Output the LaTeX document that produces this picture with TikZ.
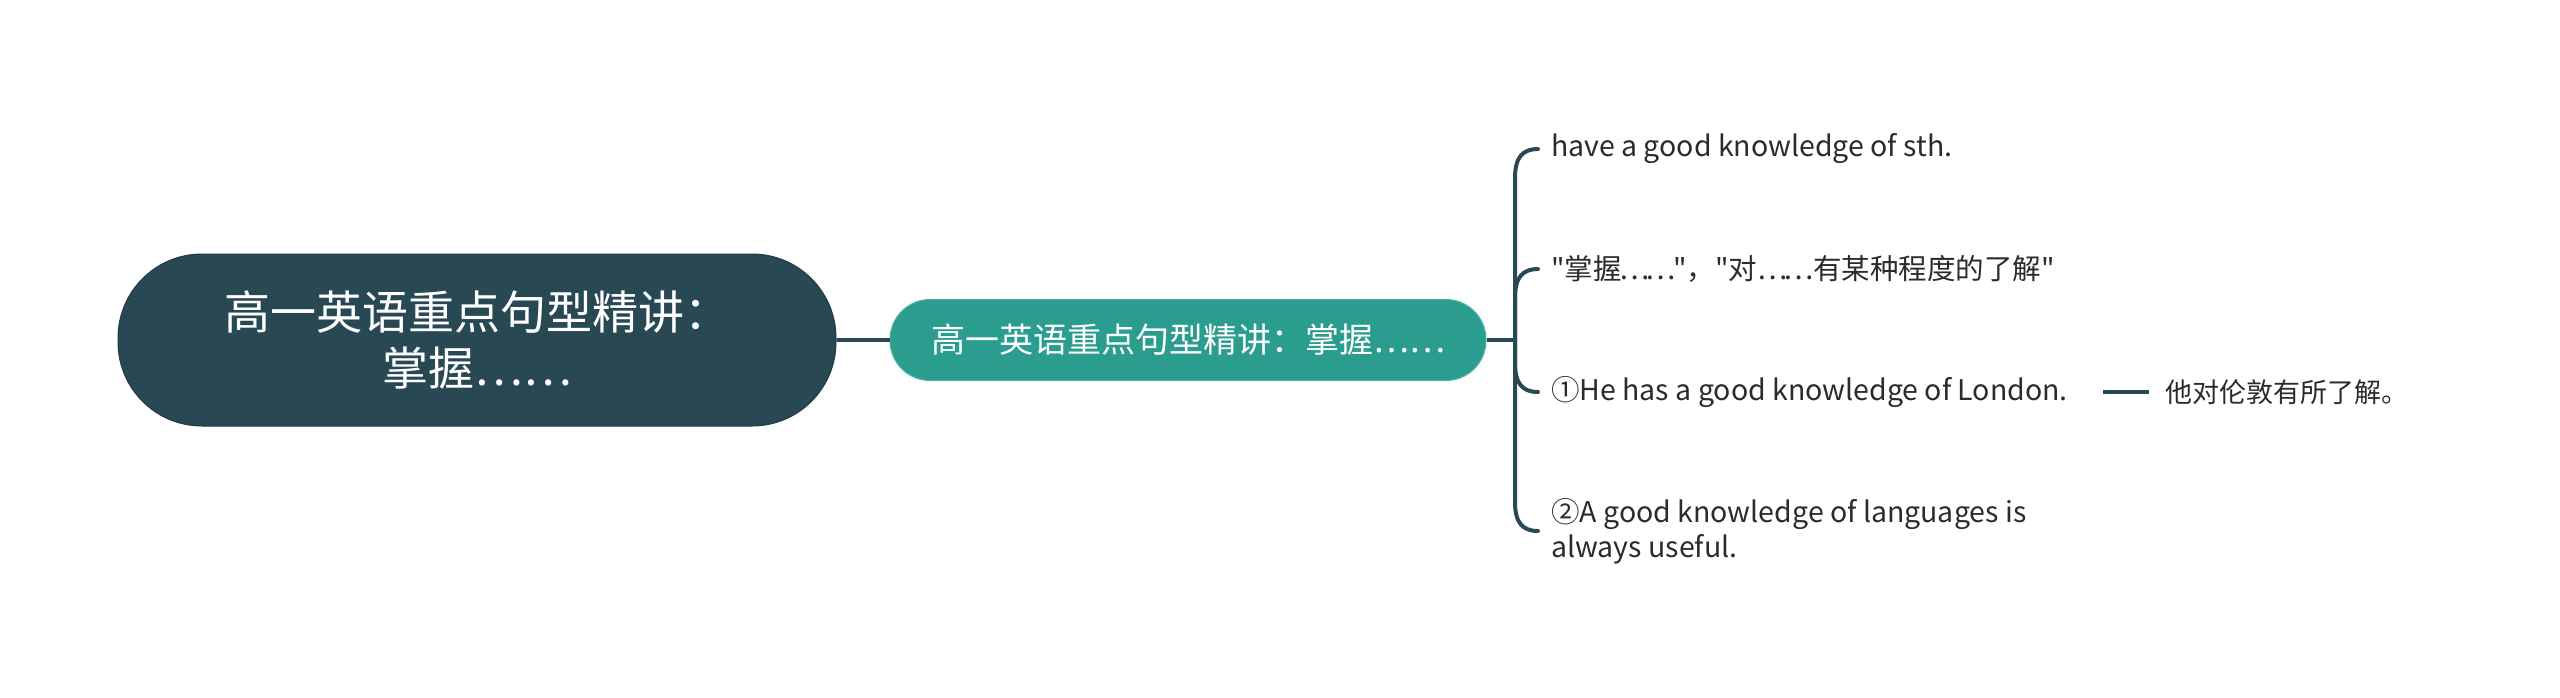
\documentclass[tikz,border=0pt]{standalone}
\usepackage{fontspec}
\setmainfont{Noto Sans CJK SC}[Ligatures=TeXOff]
\definecolor{darkslate}{HTML}{284854}
\definecolor{tealnode}{HTML}{2A9D8F}
\definecolor{txt}{HTML}{2B2B2B}
\tikzset{
  rootbox/.style={fill=darkslate, draw=darkslate!80!black, line width=1pt, rounded corners=84pt,
    minimum width=718pt, minimum height=172pt, text=white, align=center,
    font=\fontsize{46}{56}\selectfont, inner sep=0pt},
  subbox/.style={fill=tealnode, draw=tealnode!80!white, line width=1pt, rounded corners=40pt,
    minimum width=596pt, minimum height=81pt, text=white,
    font=\fontsize{34}{40}\selectfont, inner sep=0pt},
  leaf/.style={anchor=west, inner sep=0pt, text=txt, align=left,
    font=\fontsize{28.5}{35}\selectfont},
  conn/.style={draw=darkslate, line width=4pt},
  branch/.style={draw=darkslate, line width=4pt, line cap=round},
}
\begin{document}
\begin{tikzpicture}[x=1pt,y=-1pt]
\useasboundingbox (0,0) rectangle (2560,697);
\node[rootbox] (root) at (477,340) {高一英语重点句型精讲：\\掌握……};
\node[subbox] (sub) at (1188,340) {高一英语重点句型精讲：掌握……};
\coordinate (J) at (1515,340);
\node[leaf] (c1) at (1551,149) {have a good knowledge of sth.};
\node[leaf] (c2) at (1551,269) {"掌握{\kern-2pt}…{\kern-4pt}…"，"对…{\kern-4pt}…有某种程度的了解"};
\node[leaf] (c3) at (1551,392) {①He has a good knowledge of London.};
\node[leaf] (c4) at (1551,531) {②A good knowledge of languages is\\always useful.};
\node[leaf, font=\fontsize{27}{34}\selectfont] (d3) at (2165,392) {他对伦敦有所了解。};
\coordinate (e1) at (1538,149);
\coordinate (e2) at (1538,269);
\coordinate (e3) at (1538,392);
\coordinate (e4) at (1538,531);
\coordinate (l3a) at (2103,392);
\coordinate (l3b) at (2149,392);
\draw[conn] (root.east) -- (sub.west);
\draw[conn] (sub.east) -- (J);
\draw[branch] (J) -- (1515,178) .. controls (1515,158) and (1522,149) .. (e1);
\draw[branch] (J) -- (1515,298) .. controls (1515,278) and (1522,269) .. (e2);
\draw[branch] (J) -- (1515,363) .. controls (1515,383) and (1522,392) .. (e3);
\draw[branch] (J) -- (1515,502) .. controls (1515,522) and (1522,531) .. (e4);
\draw[conn] (l3a) -- (l3b);
\end{tikzpicture}
\end{document}
